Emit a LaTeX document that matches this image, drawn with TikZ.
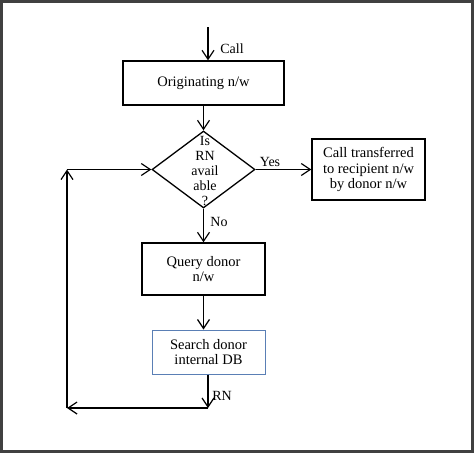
\documentclass[tikz,border=0pt]{standalone}
\usepackage{fontspec}
\setmainfont{Liberation Serif}
\usetikzlibrary{arrows.meta,shapes.geometric}
\definecolor{boxblue}{HTML}{5A7FB5}
\begin{document}
\begin{tikzpicture}[x=1pt,y=-1pt,
  box/.style={draw, line width=1.3pt, inner sep=0pt, align=center, font=\fontsize{14.5}{15.5}\selectfont},
  arr/.style={line width=1.2pt, -{Straight Barb[length=9pt,width=12pt]}},
  lbl/.style={font=\fontsize{14}{15}\selectfont, inner sep=0pt}]
\useasboundingbox (0,0) rectangle (474,453);
\fill[white] (0,0) rectangle (474,453);
\draw[line width=3pt, color=black!75] (1.5,1.5) rectangle (472.5,451.5);

\node[box, minimum width=161pt, minimum height=44pt] (orig) at (203.5,83) {Originating n/w};
\coordinate (start) at (208,27);
\draw[arr] (start) -- (start |- orig.north);
\node[lbl] (call) at (232,49) {Call};

\node[draw, diamond, minimum width=103pt, minimum height=77pt, inner sep=0pt, line width=1.3pt] (dec) at (203.5,169.5) {};
\node[align=center, inner sep=0pt, font=\fontsize{14}{14.8}\selectfont] (dtext) at (205,171) {Is\\RN\\avail\\able\\?};
\draw[arr] (orig.south) -- (dec.north);

\node[box, minimum width=113pt, minimum height=61pt] (xfer) at (368.5,169.5) {Call transferred\\to recipient n/w\\by donor n/w};
\draw[arr] (dec.east) -- (xfer.west);
\node[lbl] (yes) at (270,162) {Yes};

\node[box, minimum width=123pt, minimum height=52pt] (query) at (203.5,269) {Query donor\\n/w};
\draw[arr] (dec.south) -- (query.north);
\node[lbl] (no) at (219,222) {No};

\node[box, draw=boxblue, line width=1pt, minimum width=113pt, minimum height=44pt] (srch) at (208.5,352) {Search donor\\internal DB};
\draw[arr] (query.south) -- (query.south |- srch.north);

\coordinate (rn) at (208,408);
\coordinate (bl) at (67,408);
\coordinate (tl) at (67,169.5);
\draw[arr] (srch.south -| rn) -- (rn);
\node[lbl] (rnl) at (222,396) {RN};
\draw[arr] (rn) -- (bl);
\draw[arr] (bl) -- (tl);
\draw[arr] (tl) -- (dec.west);
\end{tikzpicture}
\end{document}
